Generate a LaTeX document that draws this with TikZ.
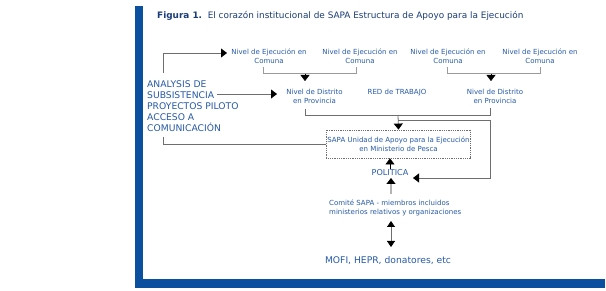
\documentclass[tikz,border=0pt]{standalone}
\usepackage{fontspec}
\setmainfont{DejaVu Sans}
\usetikzlibrary{arrows.meta}

\begin{document}
\begin{tikzpicture}[x=1pt,y=-1pt,
    lbl/.style={text=textColour, align=center, inner sep=1pt, font=\fontsize{7}{9}\selectfont},
    wire/.style={draw=wireColour, line width=0.8pt},
    bracket/.style={draw=bracketColour, line width=1pt},
    tip/.style={-{Triangle[length=6pt,width=9pt,color=black]}}]
    \definecolor{barColour}{HTML}{0B4F9F}
    \definecolor{titleColour}{HTML}{1A3C78}
    \definecolor{textColour}{HTML}{2659A5}
    \definecolor{wireColour}{HTML}{6E6E6E}
    \definecolor{bracketColour}{HTML}{9A9A9A}
    \definecolor{stemColour}{HTML}{B4B4B4}

    \useasboundingbox (0,0) rectangle (606,291);

    % Draw frame bars
    \fill[barColour] (135,6) rectangle (143,288);
    \fill[barColour] (135,279) rectangle (605,288);

    % Title
    \node[anchor=west, text=titleColour, inner sep=0pt, font=\fontsize{8.9}{10}\selectfont] (title) at (157,16)
        {\textbf{Figura 1.}\ \ El corazón institucional de SAPA Estructura de Apoyo para la Ejecución};

    % Levels
    \node[lbl] (comunaA) at (269,56.5) {Nivel de Ejecución en\\Comuna};
    \node[lbl] (comunaB) at (360,56.5) {Nivel de Ejecución en\\Comuna};
    \node[lbl] (comunaC) at (448,56.5) {Nivel de Ejecución en\\Comuna};
    \node[lbl] (comunaD) at (540,56.5) {Nivel de Ejecución en\\Comuna};
    \node[lbl] (distritoA) at (314.5,96) {Nivel de Distrito\\en Provincia};
    \node[lbl] (distritoB) at (495,96) {Nivel de Distrito\\en Provincia};
    \node[lbl] (red) at (397,93) {RED de TRABAJO};
    \node[lbl, draw=wireColour, densely dotted, line width=0.8pt, minimum width=143pt, minimum height=28pt] (sapa) at (398.5,144)
        {SAPA Unidad de Apoyo para la Ejecución\\en Ministerio de Pesca};
    \node[lbl, font=\fontsize{8.1}{9}\selectfont] (politica) at (390,173) {POLITICA};
    \node[lbl, anchor=west, align=left] (comite) at (328,208) {Comité SAPA - miembros incluidos\\ministerios relativos y organizaciones};
    \node[lbl, font=\fontsize{9.2}{11}\selectfont] (mofi) at (388,261) {MOFI, HEPR, donatores, etc};
    \node[lbl, anchor=north west, align=left, font=\fontsize{9.2}{11}\selectfont] (analysis) at (146,79)
        {ANALYSIS DE\\SUBSISTENCIA\\PROYECTOS PILOTO\\ACCESO A\\COMUNICACIÓN};

    % Connector points
    \coordinate (topA) at (163,73);
    \coordinate (inA) at (227,53);
    \coordinate (outB) at (217,94);
    \coordinate (inB) at (277,94);
    \coordinate (botA) at (163,137);
    \coordinate (midA) at (305,74);
    \coordinate (midB) at (491,74);
    \coordinate (join) at (398,115);
    \coordinate (loop) at (398,120);
    \coordinate (back) at (413,178);
    \coordinate (stem) at (391,194);
    \coordinate (upTip) at (391,221);
    \coordinate (downTip) at (391,247);

    % Brackets under the comunas
    \draw[bracket] (263,67) |- (356,74) -- (356,67);
    \draw[bracket] (447,67) |- (540,74) -- (540,67);
    \draw[tip] (midA) -- (305,81);
    \draw[tip] (midB) -- (491,81);

    % Left side links
    \draw[wire, tip] (topA) |- (inA);
    \draw[wire, tip] (outB) -- (inB);
    \draw[wire] (botA) |- (sapa.west);

    % Provinces to SAPA
    \draw[wire] (305,109) |- (490,115) -- (490,108);
    \draw[wire, tip] (join) -- (sapa.north);
    \draw[wire, tip] (loop) -| (490,178) -- (back);

    % Politica and comite
    \draw[tip] (politica.north) -- (politica.north |- sapa.south);
    \draw[draw=stemColour, line width=1.2pt, tip] (stem) -- (391,178);
    \draw[wire, {Triangle[length=6pt,width=8pt,color=black]}-{Triangle[length=6pt,width=8pt,color=black]}] (upTip) -- (downTip);

\end{tikzpicture}
\end{document}
